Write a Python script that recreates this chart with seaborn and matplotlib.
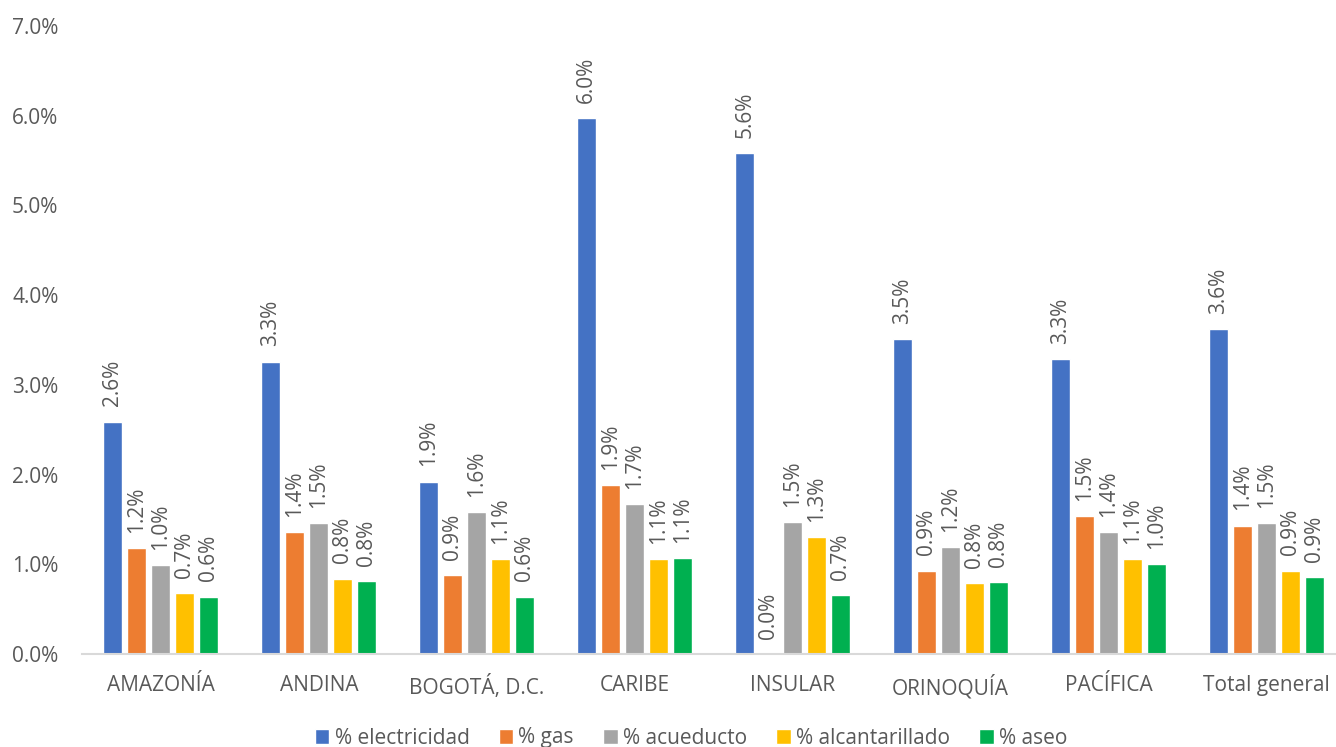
import pandas as pd
import matplotlib.pyplot as plt
import seaborn as sns
from matplotlib.patches import Patch

# -----------------------------
# Data (values in %)
# -----------------------------
regions = ["AMAZONÍA", "ANDINA", "BOGOTÁ, D.C.", "CARIBE", "INSULAR",
           "ORINOQUÍA", "PACÍFICA", "Total general"]
series = ["% electricidad", "% gas", "% acueducto", "% alcantarillado", "% aseo"]

electricidad = [2.59, 3.26, 1.92, 5.97, 5.58, 3.51, 3.29, 3.62]
gas = [1.18, 1.36, 0.88, 1.88, 0.00, 0.93, 1.54, 1.43]
acueducto = [0.99, 1.46, 1.58, 1.67, 1.47, 1.19, 1.36, 1.46]
alcantarillado = [0.68, 0.84, 1.06, 1.06, 1.30, 0.79, 1.06, 0.93]
aseo = [0.64, 0.81, 0.64, 1.07, 0.66, 0.80, 1.00, 0.86]

colors = ["#4472C4", "#ED7D31", "#A5A5A5", "#FFC000", "#00B050"]

rows = []
for name, vals in zip(series, [electricidad, gas, acueducto, alcantarillado, aseo]):
    for reg, v in zip(regions, vals):
        rows.append((reg, name, v))
df = pd.DataFrame(rows, columns=["region", "serie", "valor"])

# -----------------------------
# Plot
# -----------------------------
sns.set_style("white")
plt.rcParams["font.family"] = ["Open Sans", "DejaVu Sans"]

fig = plt.figure(figsize=(13.36, 7.47), dpi=100)
ax = fig.add_axes([82 / 1336, 1 - 654 / 747, 1 - 82 / 1336, 628 / 747])

sns.barplot(
    data=df, x="region", y="valor", hue="serie",
    order=regions, hue_order=series, palette=colors,
    width=0.76, gap=0.21, saturation=1, legend=False, ax=ax,
)

txt = "#595959"
fs = 15
for cont in ax.containers:
    ax.bar_label(cont, fmt="{:.1f}%", rotation=90, padding=11,
                 fontsize=fs, color=txt)

ax.set_ylim(0, 7)
ax.set_xlim(-0.5, 7.44)
ax.set_yticks(range(0, 8))
ax.set_yticklabels([f"{v:.1f}%" for v in range(0, 8)])
ax.tick_params(axis="y", length=0, pad=17, labelsize=fs, labelcolor=txt)
ax.tick_params(axis="x", length=0, pad=15, labelsize=fs, labelcolor=txt)
ax.set_xlabel("")
ax.set_ylabel("")

for s in ["top", "right", "left"]:
    ax.spines[s].set_visible(False)
ax.spines["bottom"].set_color("#D9D9D9")
ax.spines["bottom"].set_linewidth(1.5)

handles = [Patch(facecolor=c, label=s) for c, s in zip(colors, series)]
leg = fig.legend(handles=handles, loc="center", bbox_to_anchor=(691 / 1336, 9 / 747),
                 ncol=5, frameon=False, fontsize=fs, handlelength=0.7,
                 handleheight=0.7, handletextpad=0.25, columnspacing=1.4)
for t in leg.get_texts():
    t.set_color(txt)

plt.savefig("out.png", dpi=100)
